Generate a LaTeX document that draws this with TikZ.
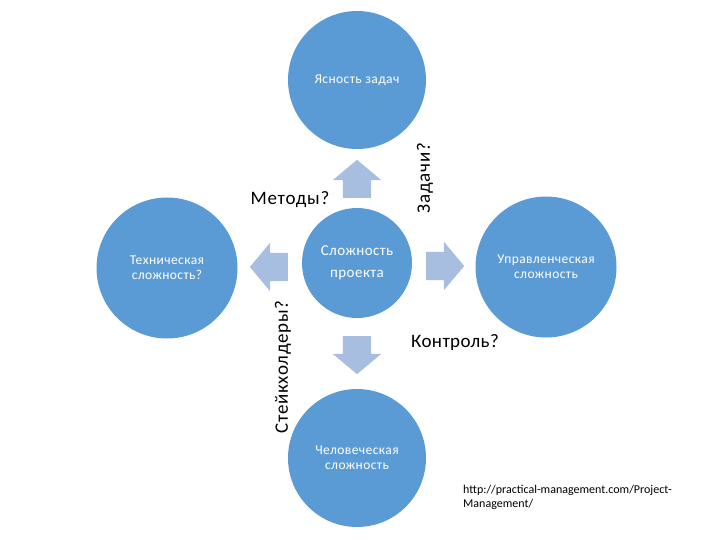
\documentclass[tikz,border=0pt]{standalone}
\usepackage{fontspec}
\setmainfont{Carlito}
\usetikzlibrary{shapes.arrows}
\definecolor{bubbleblue}{RGB}{91,155,213}
\definecolor{arrowblue}{RGB}{167,190,225}

\begin{document}
\begin{tikzpicture}[
    x=1pt, y=-1pt,
    bubble/.style={circle, fill=bubbleblue, text=white, align=center, inner sep=0pt,
        font=\fontsize{13.5}{15}\selectfont\addfontfeature{LetterSpace=3}},
    blockarrow/.style={single arrow, fill=arrowblue, minimum height=38pt, inner xsep=0pt, inner ysep=14pt,
        single arrow head extend=10pt, single arrow tip angle=100, anchor=tail},
    question/.style={font=\fontsize{19}{21}\selectfont\addfontfeature{LetterSpace=4}, inner sep=0pt}
]
    \useasboundingbox (0,0) rectangle (720,540);

    % circles
    \node[bubble, minimum size=138pt] (goals) at (357,80) {Ясность задач};
    \node[bubble, minimum size=110pt, font=\fontsize{15}{22}\selectfont\addfontfeature{LetterSpace=3}] (project) at (357,263) {Сложность\\проекта};
    \node[bubble, minimum size=141pt] (tech) at (167,268) {Техническая\\сложность?};
    \node[bubble, minimum size=141pt] (mgmt) at (546,267) {Управленческая\\сложность};
    \node[bubble, minimum size=138pt] (human) at (357,458) {Человеческая\\сложность};

    % block arrows around the centre (placed by their tails)
    \foreach \name/\x/\y/\ang in {up/357/198/90, left/288/267/180, right/426/266/0, down/357/336/-90} {
        \node[blockarrow, rotate=\ang] (a\name) at (\x,\y) {};
    }

    % questions
    \node[question] (methods) at (290,200) {Методы?};
    \node[question, rotate=90] (tasks) at (425,178) {Задачи?};
    \node[question, rotate=90] (stake) at (283,367) {Стейкхолдеры?};
    \node[question, font=\fontsize{19}{21}\selectfont\addfontfeature{LetterSpace=2}] (control) at (455,343) {Контроль?};

    \node[font=\fontsize{12}{14}\selectfont, align=left, anchor=north west, inner sep=0pt] (src) at (463,485)
        {http://practical-management.com/Project-\\Management/};
\end{tikzpicture}
\end{document}
